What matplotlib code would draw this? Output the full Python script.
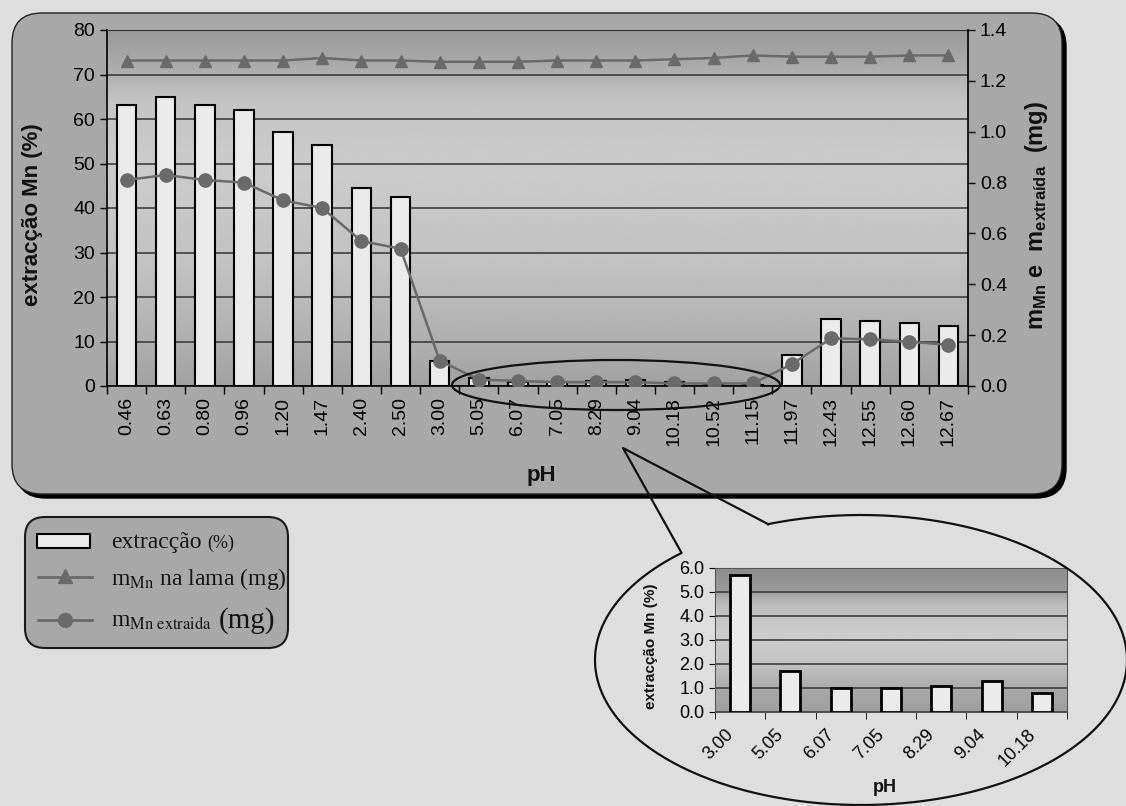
import numpy as np
import matplotlib.pyplot as plt
from matplotlib.patches import FancyBboxPatch, Rectangle, Ellipse

plt.rcParams['font.family'] = ['Liberation Sans', 'DejaVu Sans']
plt.rcParams['mathtext.fontset'] = 'custom'
plt.rcParams['mathtext.rm'] = 'Liberation Sans'
plt.rcParams['mathtext.bf'] = 'Liberation Sans:bold'
plt.rcParams['mathtext.it'] = 'Liberation Sans:italic'

# -----------------------------
# Data
# -----------------------------
ph_labels = ["0.46", "0.63", "0.80", "0.96", "1.20", "1.47", "2.40", "2.50",
             "3.00", "5.05", "6.07", "7.05", "8.29", "9.04", "10.18", "10.52",
             "11.15", "11.97", "12.43", "12.55", "12.60", "12.67"]
extraccao = [63.1, 65.0, 63.1, 62.0, 57.1, 54.2, 44.5, 42.5,
             5.7, 1.7, 1.0, 1.0, 1.1, 1.3, 0.8, 0.3,
             0.2, 7.0, 15.0, 14.7, 14.2, 13.5]
m_lama = [1.28, 1.28, 1.28, 1.28, 1.28, 1.29, 1.28, 1.28,
          1.275, 1.275, 1.275, 1.28, 1.28, 1.28, 1.285, 1.29,
          1.30, 1.295, 1.295, 1.295, 1.30, 1.30]
m_extraida = [0.81, 0.83, 0.81, 0.80, 0.73, 0.70, 0.57, 0.54,
              0.10, 0.025, 0.02, 0.015, 0.015, 0.015, 0.01, 0.01,
              0.01, 0.086, 0.187, 0.184, 0.174, 0.162]

zoom_labels = ph_labels[8:15]
zoom_extraccao = extraccao[8:15]

W, H = 1126, 806
GRAY = "#6a6a6a"
BAR_FC = "#ebebeb"

fig = plt.figure(figsize=(W / 100, H / 100), dpi=100, facecolor="#dedede")

# background layer in pixel coords (panel, legend, labels)
bg = fig.add_axes([0, 0, 1, 1], zorder=0)
bg.set_xlim(0, W)
bg.set_ylim(H, 0)
bg.axis("off")

bg.add_patch(FancyBboxPatch((16, 17), 1050, 481, boxstyle="round,pad=0,rounding_size=30",
                            fc="black", ec="black", lw=1))
bg.add_patch(FancyBboxPatch((12, 13), 1050, 481, boxstyle="round,pad=0,rounding_size=30",
                            fc="#a8a8a8", ec="#222222", lw=1))


def px_axes(x0, y0, x1, y1, **kw):
    return fig.add_axes([x0 / W, 1 - y1 / H, (x1 - x0) / W, (y1 - y0) / H], **kw)


def gradient(ax, x0, x1, y0, y1, stops, levels):
    g = np.interp(np.linspace(0, 1, 300), stops, levels)
    ax.imshow(g[:, None], extent=(x0, x1, y0, y1), origin="lower", aspect="auto",
              cmap="gray", vmin=0, vmax=1, interpolation="bicubic", zorder=0)


# -----------------------------
# Main chart
# -----------------------------
n = len(ph_labels)
x = np.arange(n)

ax = px_axes(107, 30, 968, 386, zorder=1)
gradient(ax, -0.5, n - 0.5, 0, 80,
         [0, 0.1, 0.35, 0.6, 0.8, 0.9, 1], [0.63, 0.68, 0.76, 0.80, 0.77, 0.67, 0.60])
ax.bar(x, extraccao, width=0.5, color=BAR_FC, edgecolor="black", lw=1.5, zorder=3)
ax.set_xlim(-0.5, n - 0.5)
ax.set_ylim(0, 80)
ax.set_yticks(range(0, 81, 10))
ax.set_axisbelow(True)
ax.yaxis.grid(True, color="#333333", lw=1.1)
ax.set_xticks(x)
ax.set_xticklabels(ph_labels, rotation=90, fontsize=14)
ax.set_xticks(np.arange(-0.5, n, 1), minor=True)
ax.tick_params(axis="x", which="major", length=0, pad=8)
ax.tick_params(axis="x", which="minor", length=6, width=1, direction="out")
ax.tick_params(axis="y", labelsize=14, length=5, width=1, direction="out")
ax.spines["top"].set_color("#333333")
ax.spines["right"].set_visible(False)
for s in ["left", "bottom"]:
    ax.spines[s].set_linewidth(1.2)

ax2 = ax.twinx()
ax2.plot(x, m_lama, color=GRAY, lw=1.8, marker="^", ms=9)
ax2.plot(x, m_extraida, color=GRAY, lw=1.8, marker="o", ms=9.5)
ax2.set_ylim(0, 1.4)
ax2.set_yticks(np.arange(0, 1.41, 0.2))
ax2.set_yticklabels([f"{v:.1f}" for v in np.arange(0, 1.41, 0.2)])
ax2.tick_params(axis="y", labelsize=14, length=5, width=1, direction="out")
for s in ["top", "left", "bottom"]:
    ax2.spines[s].set_visible(False)
ax2.spines["right"].set_linewidth(1.2)

bg.text(33, 215, "extracção Mn (%)", rotation=90, ha="center", va="center",
        fontsize=16, fontweight="bold", color="#111111")
bg.text(1037, 215, r"$\mathbf{m_{Mn}\ e\ \ m_{extraída}\ \ (mg)}$", rotation=90,
        ha="center", va="center", fontsize=17, color="#111111")
bg.text(541, 476, "pH", ha="center", va="center", fontsize=16, fontweight="bold",
        color="#111111")

# -----------------------------
# Legend
# -----------------------------
bg.add_patch(FancyBboxPatch((25, 517), 263, 131, boxstyle="round,pad=0,rounding_size=20",
                            fc="#a8a8a8", ec="#1a1a1a", lw=1.5))
bg.add_patch(Rectangle((37, 534), 53, 14, fc=BAR_FC, ec="black", lw=1.5))
bg.plot([38, 92], [577, 577], color=GRAY, lw=2)
bg.plot([65], [576], color=GRAY, marker="^", ms=10)
bg.plot([38, 92], [620, 620], color=GRAY, lw=2)
bg.plot([65], [620], color=GRAY, marker="o", ms=10)

serif = dict(family="Liberation Serif", color="#151515", va="baseline")
t1 = bg.text(111, 548, "extracção", fontsize=17, **serif)
bg.annotate("(%)", xy=(1, 0), xycoords=t1, xytext=(4, 4), textcoords="offset points",
            fontsize=13, **serif)
bg.text(111, 585, r"m$_{\mathrm{Mn}}$ na lama (mg)", fontsize=17,
        math_fontfamily="stix", **serif)
t3 = bg.text(111, 627, r"m$_{\mathrm{Mn\ extraida}}$", fontsize=17,
             math_fontfamily="stix", **serif)
bg.annotate("(mg)", xy=(1, 0), xycoords=t3, xytext=(5, 3), textcoords="offset points",
            fontsize=21, **serif)

# -----------------------------
# Zoom inset
# -----------------------------
m = len(zoom_labels)
xi = np.arange(m)
axi = px_axes(715, 568, 1067, 712, zorder=3)
gradient(axi, -0.5, m - 0.5, 0, 6,
         [0, 0.15, 0.35, 0.55, 0.75, 0.85, 1], [0.62, 0.66, 0.77, 0.80, 0.74, 0.60, 0.55])
axi.bar(xi, zoom_extraccao, width=0.4, color=BAR_FC, edgecolor="black", lw=2, zorder=3)
axi.set_xlim(-0.5, m - 0.5)
axi.set_ylim(0, 6)
axi.set_yticks(np.arange(0, 6.1, 1))
axi.set_yticklabels([f"{v:.1f}" for v in np.arange(0, 6.1, 1)])
axi.set_axisbelow(True)
axi.yaxis.grid(True, color="#333333", lw=1.1)
axi.set_xticks(xi - 0.3)
axi.set_xticklabels(zoom_labels, rotation=45, ha="right", rotation_mode="anchor",
                    fontsize=13)
axi.set_xticks(np.arange(-0.5, m, 1), minor=True)
axi.tick_params(axis="x", which="major", length=0, pad=10)
axi.tick_params(axis="x", which="minor", length=5, direction="out")
axi.tick_params(axis="y", labelsize=13, length=4, direction="out")
for s in axi.spines.values():
    s.set_color("#555555")

bg.text(651, 646, "extracção Mn (%)", rotation=90, ha="center", va="center",
        fontsize=11, fontweight="bold", color="#111111")
bg.text(885, 788, "pH", ha="center", va="center", fontsize=13, fontweight="bold",
        color="#111111")

# -----------------------------
# Ellipse and callout on top
# -----------------------------
fg = fig.add_axes([0, 0, 1, 1], zorder=5)
fg.set_xlim(0, W)
fg.set_ylim(H, 0)
fg.axis("off")
fg.patch.set_alpha(0)

fg.add_patch(Ellipse((616, 385), 328, 50, fill=False, ec="#111111", lw=1.6))

cx, cy, a, b = 861, 660, 266, 145
tip = (623, 448)
pa = (768, 524)
pb = (680, 552)
ta = np.arctan2((pa[1] - cy) / b, (pa[0] - cx) / a)
tb = np.arctan2((pb[1] - cy) / b, (pb[0] - cx) / a) + 2 * np.pi
t = np.linspace(ta, tb, 400)
ex = cx + a * np.cos(t)
ey = cy + b * np.sin(t)
fg.plot(np.r_[ex, tip[0], ex[0]], np.r_[ey, tip[1], ey[0]], color="#111111", lw=1.6,
        clip_on=False)

fig.savefig("out.png", dpi=100, facecolor=fig.get_facecolor())
